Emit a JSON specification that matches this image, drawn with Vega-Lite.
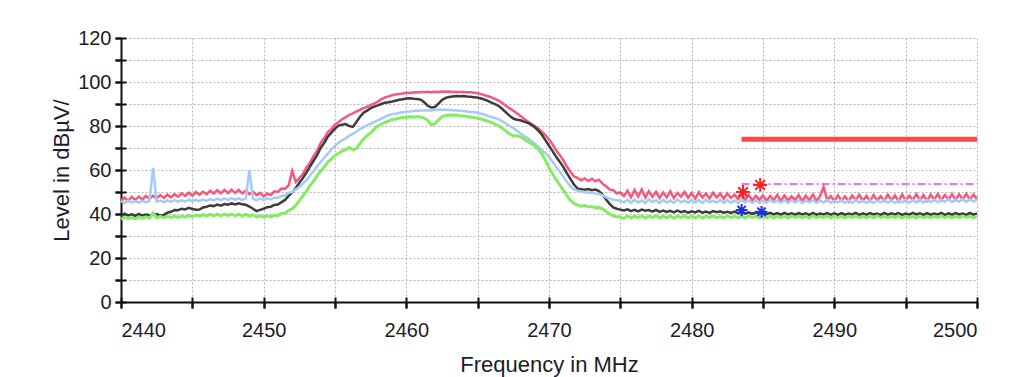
{
  "$schema": "https://vega.github.io/schema/vega-lite/v6.json",
  "width": 856,
  "height": 264,
  "autosize": {"type": "none"},
  "padding": {"left": 121, "top": 38, "right": 38, "bottom": 75},
  "background": "white",
  "config": {"view": {"stroke": null}, "font": "Liberation Sans"},
  "datasets": {
    "spec": [
      {"f":2440,"p":46.0,"k":39.0,"b":45.8,"g":37.6},
      {"f":2440.25,"p":47.4,"k":40.1,"b":45.0,"g":38.5},
      {"f":2440.5,"p":45.9,"k":39.4,"b":46.1,"g":37.9},
      {"f":2440.75,"p":47.8,"k":39.9,"b":45.3,"g":38.4},
      {"f":2441,"p":46.4,"k":39.2,"b":45.9,"g":37.8},
      {"f":2441.25,"p":47.9,"k":40.0,"b":45.2,"g":38.6},
      {"f":2441.5,"p":46.6,"k":39.3,"b":46.0,"g":38.0},
      {"f":2441.75,"p":48.2,"k":39.8,"b":45.4,"g":38.7},
      {"f":2442,"p":46.9,"k":39.4,"b":45.9,"g":38.1},
      {"f":2442.25,"p":48.3,"k":39.6,"b":61.0,"g":40.5},
      {"f":2442.5,"p":47.2,"k":40.0,"b":45.6,"g":38.2},
      {"f":2442.75,"p":48.6,"k":39.3,"b":46.1,"g":38.9},
      {"f":2443,"p":47.3,"k":39.6,"b":45.4,"g":38.3},
      {"f":2443.25,"p":48.8,"k":40.6,"b":46.2,"g":38.9},
      {"f":2443.5,"p":47.6,"k":41.0,"b":45.5,"g":38.4},
      {"f":2443.75,"p":49.0,"k":41.8,"b":46.3,"g":39.0},
      {"f":2444,"p":47.9,"k":41.7,"b":45.6,"g":38.5},
      {"f":2444.25,"p":49.4,"k":42.4,"b":46.2,"g":39.1},
      {"f":2444.5,"p":48.2,"k":42.1,"b":45.7,"g":38.6},
      {"f":2444.75,"p":49.7,"k":42.8,"b":46.4,"g":39.3},
      {"f":2445,"p":48.4,"k":42.3,"b":45.8,"g":38.8},
      {"f":2445.25,"p":50.0,"k":41.9,"b":46.4,"g":39.5},
      {"f":2445.5,"p":48.7,"k":42.0,"b":45.9,"g":39.0},
      {"f":2445.75,"p":50.2,"k":43.0,"b":46.6,"g":39.7},
      {"f":2446,"p":48.9,"k":43.3,"b":46.0,"g":39.1},
      {"f":2446.25,"p":50.6,"k":43.9,"b":46.8,"g":39.8},
      {"f":2446.5,"p":49.3,"k":43.6,"b":46.2,"g":39.2},
      {"f":2446.75,"p":50.8,"k":44.3,"b":47.0,"g":39.9},
      {"f":2447,"p":49.4,"k":43.8,"b":46.3,"g":39.3},
      {"f":2447.25,"p":50.9,"k":44.5,"b":47.1,"g":40.0},
      {"f":2447.5,"p":49.5,"k":44.2,"b":46.4,"g":39.4},
      {"f":2447.75,"p":51.0,"k":44.8,"b":47.2,"g":40.0},
      {"f":2448,"p":49.6,"k":44.3,"b":46.5,"g":39.3},
      {"f":2448.25,"p":50.9,"k":44.9,"b":47.1,"g":39.9},
      {"f":2448.5,"p":49.4,"k":44.4,"b":46.4,"g":39.2},
      {"f":2448.75,"p":50.6,"k":44.2,"b":47.0,"g":39.8},
      {"f":2449,"p":49.0,"k":43.4,"b":60.0,"g":39.0},
      {"f":2449.25,"p":50.2,"k":42.4,"b":46.9,"g":39.6},
      {"f":2449.5,"p":48.6,"k":41.3,"b":46.3,"g":38.7},
      {"f":2449.75,"p":49.6,"k":41.9,"b":47.0,"g":39.2},
      {"f":2450,"p":48.0,"k":42.4,"b":46.4,"g":38.6},
      {"f":2450.25,"p":49.3,"k":43.1,"b":47.1,"g":39.2},
      {"f":2450.5,"p":48.6,"k":43.3,"b":46.6,"g":38.7},
      {"f":2450.75,"p":50.3,"k":44.1,"b":47.5,"g":39.4},
      {"f":2451,"p":50.0,"k":44.3,"b":47.3,"g":39.3},
      {"f":2451.25,"p":51.6,"k":45.4,"b":48.2,"g":40.2},
      {"f":2451.5,"p":51.5,"k":46.4,"b":48.5,"g":40.4},
      {"f":2451.75,"p":53.0,"k":48.2,"b":49.6,"g":41.6},
      {"f":2452,"p":59.5,"k":49.8,"b":50.0,"g":42.4},
      {"f":2452.25,"p":54.6,"k":51.8,"b":51.2,"g":44.0},
      {"f":2452.5,"p":56.3,"k":54.2,"b":52.1,"g":46.1},
      {"f":2452.75,"p":58.2,"k":56.3,"b":53.9,"g":48.2},
      {"f":2453,"p":61.2,"k":58.8,"b":55.4,"g":50.4},
      {"f":2453.25,"p":63.3,"k":61.6,"b":57.6,"g":52.9},
      {"f":2453.5,"p":66.4,"k":64.2,"b":59.4,"g":55.0},
      {"f":2453.75,"p":68.8,"k":66.8,"b":61.7,"g":57.4},
      {"f":2454,"p":72.3,"k":70.1,"b":63.6,"g":59.6},
      {"f":2454.25,"p":74.5,"k":72.4,"b":65.7,"g":61.4},
      {"f":2454.5,"p":77.2,"k":75.2,"b":67.4,"g":63.6},
      {"f":2454.75,"p":78.6,"k":77.0,"b":69.4,"g":65.0},
      {"f":2455,"p":80.6,"k":78.8,"b":71.0,"g":66.6},
      {"f":2455.25,"p":81.7,"k":80.2,"b":72.4,"g":67.6},
      {"f":2455.5,"p":83.1,"k":80.6,"b":73.6,"g":68.6},
      {"f":2455.75,"p":84.0,"k":80.9,"b":74.4,"g":69.4},
      {"f":2456,"p":85.1,"k":80.0,"b":75.6,"g":70.2},
      {"f":2456.25,"p":85.7,"k":79.6,"b":76.4,"g":69.3},
      {"f":2456.5,"p":86.6,"k":81.8,"b":77.4,"g":69.8},
      {"f":2456.75,"p":87.3,"k":84.2,"b":78.6,"g":72.0},
      {"f":2457,"p":88.1,"k":86.0,"b":79.4,"g":74.1},
      {"f":2457.25,"p":88.7,"k":87.0,"b":80.4,"g":75.6},
      {"f":2457.5,"p":89.6,"k":88.1,"b":81.1,"g":77.0},
      {"f":2457.75,"p":90.2,"k":88.8,"b":81.9,"g":78.6},
      {"f":2458,"p":91.1,"k":89.4,"b":82.6,"g":80.0},
      {"f":2458.25,"p":92.2,"k":90.0,"b":83.4,"g":80.8},
      {"f":2458.5,"p":93.0,"k":90.6,"b":84.1,"g":81.6},
      {"f":2458.75,"p":93.4,"k":90.8,"b":84.9,"g":82.2},
      {"f":2459,"p":94.0,"k":91.1,"b":85.4,"g":83.0},
      {"f":2459.25,"p":94.3,"k":91.5,"b":85.6,"g":83.2},
      {"f":2459.5,"p":94.6,"k":91.9,"b":86.0,"g":83.5},
      {"f":2459.75,"p":94.8,"k":92.2,"b":86.2,"g":83.9},
      {"f":2460,"p":95.1,"k":92.5,"b":86.5,"g":84.0},
      {"f":2460.25,"p":95.0,"k":92.6,"b":86.6,"g":84.2},
      {"f":2460.5,"p":95.3,"k":92.4,"b":86.8,"g":84.0},
      {"f":2460.75,"p":95.2,"k":92.3,"b":86.9,"g":84.3},
      {"f":2461,"p":95.5,"k":92.0,"b":87.0,"g":84.1},
      {"f":2461.25,"p":95.4,"k":90.8,"b":87.1,"g":83.6},
      {"f":2461.5,"p":95.6,"k":89.2,"b":87.2,"g":82.6},
      {"f":2461.75,"p":95.4,"k":88.4,"b":87.0,"g":80.6},
      {"f":2462,"p":95.6,"k":88.6,"b":87.3,"g":81.0},
      {"f":2462.25,"p":95.5,"k":90.2,"b":87.4,"g":82.8},
      {"f":2462.5,"p":95.7,"k":91.8,"b":87.5,"g":84.2},
      {"f":2462.75,"p":95.6,"k":92.8,"b":87.4,"g":84.8},
      {"f":2463,"p":95.7,"k":93.2,"b":87.3,"g":85.0},
      {"f":2463.25,"p":95.5,"k":93.4,"b":87.2,"g":84.9},
      {"f":2463.5,"p":95.6,"k":93.6,"b":87.1,"g":85.0},
      {"f":2463.75,"p":95.4,"k":93.5,"b":86.9,"g":84.7},
      {"f":2464,"p":95.5,"k":93.6,"b":86.8,"g":84.6},
      {"f":2464.25,"p":95.3,"k":93.4,"b":86.6,"g":84.3},
      {"f":2464.5,"p":95.3,"k":93.3,"b":86.4,"g":84.1},
      {"f":2464.75,"p":95.1,"k":93.1,"b":86.2,"g":83.8},
      {"f":2465,"p":94.9,"k":92.9,"b":86.0,"g":83.5},
      {"f":2465.25,"p":94.5,"k":92.5,"b":85.6,"g":83.1},
      {"f":2465.5,"p":94.0,"k":92.0,"b":85.1,"g":82.6},
      {"f":2465.75,"p":93.5,"k":91.3,"b":84.5,"g":82.1},
      {"f":2466,"p":92.9,"k":90.5,"b":84.0,"g":81.5},
      {"f":2466.25,"p":92.2,"k":89.8,"b":83.5,"g":80.8},
      {"f":2466.5,"p":91.4,"k":89.0,"b":83.0,"g":80.0},
      {"f":2466.75,"p":90.3,"k":87.6,"b":82.0,"g":78.8},
      {"f":2467,"p":89.1,"k":86.1,"b":81.0,"g":77.6},
      {"f":2467.25,"p":88.0,"k":84.6,"b":80.0,"g":76.4},
      {"f":2467.5,"p":86.9,"k":83.4,"b":79.0,"g":75.5},
      {"f":2467.75,"p":85.8,"k":82.8,"b":77.8,"g":75.6},
      {"f":2468,"p":84.6,"k":82.6,"b":76.6,"g":75.1},
      {"f":2468.25,"p":83.3,"k":82.0,"b":75.5,"g":74.1},
      {"f":2468.5,"p":82.1,"k":81.4,"b":74.5,"g":73.0},
      {"f":2468.75,"p":81.0,"k":80.6,"b":73.2,"g":72.0},
      {"f":2469,"p":80.0,"k":79.4,"b":72.0,"g":71.0},
      {"f":2469.25,"p":78.9,"k":77.9,"b":70.6,"g":69.4},
      {"f":2469.5,"p":77.4,"k":76.0,"b":69.0,"g":67.4},
      {"f":2469.75,"p":75.9,"k":73.6,"b":67.6,"g":64.4},
      {"f":2470,"p":74.0,"k":71.0,"b":66.0,"g":61.0},
      {"f":2470.25,"p":71.6,"k":68.6,"b":63.8,"g":58.2},
      {"f":2470.5,"p":69.0,"k":66.0,"b":61.5,"g":55.6},
      {"f":2470.75,"p":66.8,"k":63.8,"b":59.2,"g":53.2},
      {"f":2471,"p":64.5,"k":61.4,"b":57.0,"g":51.0},
      {"f":2471.25,"p":61.6,"k":58.6,"b":54.6,"g":48.4},
      {"f":2471.5,"p":59.2,"k":56.0,"b":52.6,"g":46.2},
      {"f":2471.75,"p":57.1,"k":53.4,"b":51.2,"g":44.8},
      {"f":2472,"p":56.4,"k":51.6,"b":50.6,"g":44.1},
      {"f":2472.25,"p":55.3,"k":51.2,"b":50.2,"g":43.5},
      {"f":2472.5,"p":56.2,"k":51.0,"b":50.0,"g":43.8},
      {"f":2472.75,"p":55.0,"k":51.3,"b":49.7,"g":43.2},
      {"f":2473,"p":56.0,"k":50.8,"b":49.8,"g":43.4},
      {"f":2473.25,"p":54.9,"k":51.1,"b":49.3,"g":42.8},
      {"f":2473.5,"p":55.6,"k":50.4,"b":49.2,"g":43.0},
      {"f":2473.75,"p":53.8,"k":48.8,"b":48.5,"g":42.3},
      {"f":2474,"p":52.6,"k":46.6,"b":47.6,"g":41.2},
      {"f":2474.25,"p":51.2,"k":44.6,"b":47.0,"g":40.0},
      {"f":2474.5,"p":50.8,"k":43.0,"b":46.6,"g":39.1},
      {"f":2474.75,"p":49.4,"k":42.4,"b":46.3,"g":38.7},
      {"f":2475,"p":49.8,"k":42.0,"b":46.0,"g":38.6},
      {"f":2475.25,"p":48.2,"k":41.6,"b":45.3,"g":38.0},
      {"f":2475.5,"p":50.6,"k":42.1,"b":46.4,"g":39.1},
      {"f":2475.75,"p":47.6,"k":41.3,"b":45.1,"g":38.2},
      {"f":2476,"p":50.9,"k":41.9,"b":46.5,"g":39.0},
      {"f":2476.25,"p":47.9,"k":41.2,"b":45.2,"g":38.3},
      {"f":2476.5,"p":51.2,"k":42.0,"b":46.2,"g":39.2},
      {"f":2476.75,"p":47.5,"k":41.5,"b":45.0,"g":38.1},
      {"f":2477,"p":50.4,"k":41.8,"b":46.6,"g":39.0},
      {"f":2477.25,"p":47.8,"k":41.1,"b":45.4,"g":38.4},
      {"f":2477.5,"p":50.1,"k":41.9,"b":46.3,"g":39.3},
      {"f":2477.75,"p":47.3,"k":41.0,"b":45.0,"g":38.2},
      {"f":2478,"p":49.8,"k":41.6,"b":46.4,"g":38.9},
      {"f":2478.25,"p":47.6,"k":40.9,"b":45.2,"g":38.3},
      {"f":2478.5,"p":50.3,"k":41.4,"b":46.1,"g":39.2},
      {"f":2478.75,"p":47.2,"k":40.7,"b":45.0,"g":38.1},
      {"f":2479,"p":49.6,"k":41.5,"b":46.5,"g":39.0},
      {"f":2479.25,"p":47.9,"k":40.8,"b":45.3,"g":38.4},
      {"f":2479.5,"p":50.0,"k":41.3,"b":46.2,"g":39.1},
      {"f":2479.75,"p":47.4,"k":40.6,"b":45.1,"g":38.2},
      {"f":2480,"p":49.5,"k":41.2,"b":46.4,"g":39.0},
      {"f":2480.25,"p":47.0,"k":40.7,"b":45.2,"g":38.3},
      {"f":2480.5,"p":49.9,"k":41.4,"b":46.3,"g":39.2},
      {"f":2480.75,"p":47.5,"k":40.6,"b":45.0,"g":38.1},
      {"f":2481,"p":49.3,"k":41.1,"b":46.5,"g":39.0},
      {"f":2481.25,"p":47.1,"k":40.5,"b":45.3,"g":38.5},
      {"f":2481.5,"p":49.7,"k":41.3,"b":46.1,"g":39.1},
      {"f":2481.75,"p":47.6,"k":40.8,"b":45.2,"g":38.3},
      {"f":2482,"p":49.2,"k":41.2,"b":46.4,"g":38.9},
      {"f":2482.25,"p":46.9,"k":40.6,"b":45.0,"g":38.2},
      {"f":2482.5,"p":49.4,"k":41.0,"b":46.3,"g":39.1},
      {"f":2482.75,"p":47.3,"k":40.5,"b":45.1,"g":38.4},
      {"f":2483,"p":48.8,"k":41.1,"b":46.2,"g":38.9},
      {"f":2483.25,"p":46.8,"k":40.4,"b":45.0,"g":38.3},
      {"f":2483.5,"p":48.9,"k":40.9,"b":46.4,"g":39.0},
      {"f":2483.75,"p":46.5,"k":40.2,"b":45.2,"g":38.2},
      {"f":2484,"p":48.6,"k":40.8,"b":46.1,"g":39.1},
      {"f":2484.25,"p":46.2,"k":40.1,"b":45.0,"g":38.4},
      {"f":2484.5,"p":48.3,"k":40.7,"b":46.3,"g":38.9},
      {"f":2484.75,"p":46.4,"k":40.0,"b":45.1,"g":38.2},
      {"f":2485,"p":48.5,"k":40.6,"b":46.2,"g":39.0},
      {"f":2485.25,"p":46.0,"k":39.9,"b":45.0,"g":38.3},
      {"f":2485.5,"p":48.2,"k":40.5,"b":46.4,"g":39.1},
      {"f":2485.75,"p":46.3,"k":39.8,"b":45.3,"g":38.2},
      {"f":2486,"p":48.7,"k":40.4,"b":46.1,"g":38.9},
      {"f":2486.25,"p":45.9,"k":39.7,"b":45.1,"g":38.3},
      {"f":2486.5,"p":48.4,"k":40.5,"b":46.3,"g":39.0},
      {"f":2486.75,"p":46.1,"k":39.8,"b":45.0,"g":38.2},
      {"f":2487,"p":48.0,"k":40.3,"b":46.2,"g":39.1},
      {"f":2487.25,"p":46.4,"k":39.7,"b":45.2,"g":38.4},
      {"f":2487.5,"p":48.6,"k":40.4,"b":46.4,"g":38.9},
      {"f":2487.75,"p":45.8,"k":39.8,"b":45.0,"g":38.3},
      {"f":2488,"p":48.3,"k":40.3,"b":46.1,"g":39.0},
      {"f":2488.25,"p":46.2,"k":39.6,"b":45.3,"g":38.2},
      {"f":2488.5,"p":48.9,"k":40.5,"b":46.3,"g":39.1},
      {"f":2488.75,"p":46.0,"k":39.7,"b":45.1,"g":38.3},
      {"f":2489,"p":48.1,"k":40.2,"b":46.2,"g":38.9},
      {"f":2489.25,"p":52.4,"k":39.8,"b":45.2,"g":38.4},
      {"f":2489.5,"p":46.3,"k":40.4,"b":46.4,"g":39.0},
      {"f":2489.75,"p":48.2,"k":39.7,"b":45.0,"g":38.2},
      {"f":2490,"p":45.9,"k":40.3,"b":46.1,"g":39.1},
      {"f":2490.25,"p":48.5,"k":39.6,"b":45.3,"g":38.3},
      {"f":2490.5,"p":46.1,"k":40.4,"b":46.3,"g":38.9},
      {"f":2490.75,"p":48.0,"k":39.7,"b":45.1,"g":38.2},
      {"f":2491,"p":45.8,"k":40.2,"b":46.2,"g":39.0},
      {"f":2491.25,"p":48.4,"k":39.8,"b":45.0,"g":38.4},
      {"f":2491.5,"p":46.3,"k":40.5,"b":46.4,"g":39.1},
      {"f":2491.75,"p":48.7,"k":39.6,"b":45.2,"g":38.3},
      {"f":2492,"p":46.0,"k":40.3,"b":46.1,"g":38.9},
      {"f":2492.25,"p":48.2,"k":39.7,"b":45.1,"g":38.2},
      {"f":2492.5,"p":45.9,"k":40.4,"b":46.3,"g":39.0},
      {"f":2492.75,"p":48.6,"k":39.8,"b":45.0,"g":38.3},
      {"f":2493,"p":46.2,"k":40.2,"b":46.2,"g":39.1},
      {"f":2493.25,"p":48.1,"k":39.6,"b":45.3,"g":38.4},
      {"f":2493.5,"p":46.0,"k":40.5,"b":46.4,"g":38.9},
      {"f":2493.75,"p":48.8,"k":39.7,"b":45.1,"g":38.2},
      {"f":2494,"p":46.3,"k":40.3,"b":46.2,"g":39.0},
      {"f":2494.25,"p":48.4,"k":39.8,"b":45.0,"g":38.3},
      {"f":2494.5,"p":45.8,"k":40.4,"b":46.3,"g":39.1},
      {"f":2494.75,"p":48.9,"k":39.6,"b":45.2,"g":38.2},
      {"f":2495,"p":46.1,"k":40.2,"b":46.5,"g":38.9},
      {"f":2495.25,"p":48.3,"k":39.7,"b":45.1,"g":38.4},
      {"f":2495.5,"p":46.4,"k":40.5,"b":46.4,"g":39.0},
      {"f":2495.75,"p":49.0,"k":39.8,"b":45.3,"g":38.2},
      {"f":2496,"p":46.2,"k":40.3,"b":46.6,"g":39.1},
      {"f":2496.25,"p":48.6,"k":39.6,"b":45.2,"g":38.3},
      {"f":2496.5,"p":46.0,"k":40.4,"b":46.5,"g":38.9},
      {"f":2496.75,"p":48.8,"k":39.7,"b":45.4,"g":38.2},
      {"f":2497,"p":46.5,"k":40.2,"b":46.7,"g":39.0},
      {"f":2497.25,"p":49.1,"k":39.8,"b":45.3,"g":38.4},
      {"f":2497.5,"p":46.3,"k":40.5,"b":46.6,"g":39.1},
      {"f":2497.75,"p":48.7,"k":39.6,"b":45.5,"g":38.3},
      {"f":2498,"p":46.6,"k":40.3,"b":46.8,"g":38.9},
      {"f":2498.25,"p":49.0,"k":39.7,"b":45.4,"g":38.2},
      {"f":2498.5,"p":46.4,"k":40.4,"b":46.7,"g":39.0},
      {"f":2498.75,"p":48.9,"k":39.8,"b":45.6,"g":38.3},
      {"f":2499,"p":46.7,"k":40.2,"b":46.9,"g":39.1},
      {"f":2499.25,"p":49.2,"k":39.6,"b":45.5,"g":38.4},
      {"f":2499.5,"p":46.5,"k":40.5,"b":46.8,"g":38.9},
      {"f":2499.75,"p":48.8,"k":39.7,"b":45.7,"g":38.2},
      {"f":2500,"p":46.9,"k":40.3,"b":46.6,"g":39.0}
    ],
    "limit": [{"f":2483.5,"v":74},{"f":2500,"v":74}],
    "avg": [{"f":2483.5,"v":53.6},{"f":2500,"v":53.6}],
    "redmk": [{"f":2483.6,"v":50.0},{"f":2484.8,"v":53.2}],
    "bluemk": [{"f":2483.5,"v":41.8},{"f":2484.9,"v":41.0}]
  },
  "resolve": {"axis": {"x": "independent", "y": "independent"}},
  "layer": [
    {
      "data": {"name": "spec"},
      "mark": {"type": "line", "color": "#f4587c", "strokeWidth": 2.5},
      "encoding": {
        "x": {"field": "f", "type": "quantitative", "scale": {"domain": [2440, 2500], "nice": false, "zero": false},
          "axis": {"orient": "bottom", "values": [2440,2445,2450,2455,2460,2465,2470,2475,2480,2485,2490,2495,2500],
            "labelExpr": "datum.value % 10 === 0 ? datum.label : ''", "format": "d",
            "grid": true, "gridColor": "#b5b5b5", "gridDash": [2, 2], "gridWidth": 1,
            "domainColor": "#111111", "domainWidth": 2, "tickColor": "#111111", "tickWidth": 2, "tickSize": 6,
            "labelFont": "Liberation Sans", "labelFontSize": 20, "labelColor": "#1c1c28", "labelPadding": 12,
            "title": "Frequency in MHz", "titleFont": "Liberation Sans", "titleFontSize": 22, "titleFontWeight": "normal", "titleColor": "#1c1c28", "titlePadding": 14}},
        "y": {"field": "p", "type": "quantitative", "scale": {"domain": [0, 120], "nice": false},
          "axis": {"orient": "left", "values": [0,10,20,30,40,50,60,70,80,90,100,110,120],
            "labelExpr": "datum.value % 20 === 0 ? datum.label : ''",
            "grid": true, "gridColor": "#b5b5b5", "gridDash": [2, 2], "gridWidth": 1,
            "domainColor": "#111111", "domainWidth": 2, "tickColor": "#111111", "tickWidth": 2, "tickSize": 6,
            "labelFont": "Liberation Sans", "labelFontSize": 20, "labelColor": "#1c1c28", "labelPadding": 4,
            "title": "Level in dBµV/", "titleFont": "Liberation Sans", "titleFontSize": 22, "titleFontWeight": "normal", "titleColor": "#1c1c28", "titlePadding": 4}}
      }
    },
    {
      "data": {"name": "spec"},
      "mark": {"type": "line", "color": "#3c3c3c", "strokeWidth": 2.5},
      "encoding": {
        "x": {"field": "f", "type": "quantitative", "scale": {"domain": [2440, 2500], "nice": false, "zero": false}, "axis": null},
        "y": {"field": "k", "type": "quantitative", "scale": {"domain": [0, 120], "nice": false}, "axis": null}
      }
    },
    {
      "data": {"name": "spec"},
      "mark": {"type": "line", "color": "#a4cbf7", "strokeWidth": 2.5},
      "encoding": {
        "x": {"field": "f", "type": "quantitative", "scale": {"domain": [2440, 2500], "nice": false, "zero": false}, "axis": null},
        "y": {"field": "b", "type": "quantitative", "scale": {"domain": [0, 120], "nice": false}, "axis": null}
      }
    },
    {
      "data": {"name": "spec"},
      "mark": {"type": "line", "color": "#84ec62", "strokeWidth": 3},
      "encoding": {
        "x": {"field": "f", "type": "quantitative", "scale": {"domain": [2440, 2500], "nice": false, "zero": false}, "axis": null},
        "y": {"field": "g", "type": "quantitative", "scale": {"domain": [0, 120], "nice": false}, "axis": null}
      }
    },
    {
      "data": {"name": "avg"},
      "mark": {"type": "line", "color": "#ff3cf5", "strokeWidth": 1.5, "strokeDash": [8, 3, 2, 3]},
      "encoding": {
        "x": {"field": "f", "type": "quantitative", "scale": {"domain": [2440, 2500], "nice": false, "zero": false}, "axis": null},
        "y": {"field": "v", "type": "quantitative", "scale": {"domain": [0, 120], "nice": false}, "axis": null}
      }
    },
    {
      "data": {"name": "redmk"},
      "mark": {"type": "point", "shape": "M-1,0L1,0M0,-1L0,1M-0.7,-0.7L0.7,0.7M-0.7,0.7L0.7,-0.7", "filled": false, "color": "#ff1f1f", "strokeWidth": 2, "size": 190, "opacity": 1},
      "encoding": {
        "x": {"field": "f", "type": "quantitative", "scale": {"domain": [2440, 2500], "nice": false, "zero": false}, "axis": null},
        "y": {"field": "v", "type": "quantitative", "scale": {"domain": [0, 120], "nice": false}, "axis": null}
      }
    },
    {
      "data": {"name": "bluemk"},
      "mark": {"type": "point", "shape": "M-1,0L1,0M0,-1L0,1M-0.7,-0.7L0.7,0.7M-0.7,0.7L0.7,-0.7", "filled": false, "color": "#1f2fe8", "strokeWidth": 2, "size": 140, "opacity": 1},
      "encoding": {
        "x": {"field": "f", "type": "quantitative", "scale": {"domain": [2440, 2500], "nice": false, "zero": false}, "axis": null},
        "y": {"field": "v", "type": "quantitative", "scale": {"domain": [0, 120], "nice": false}, "axis": null}
      }
    },
    {
      "data": {"name": "limit"},
      "mark": {"type": "line", "color": "#ff4646", "strokeWidth": 5},
      "encoding": {
        "x": {"field": "f", "type": "quantitative", "scale": {"domain": [2440, 2500], "nice": false, "zero": false},
          "axis": {"orient": "bottom", "offset": -5, "values": [2440,2445,2450,2455,2460,2465,2470,2475,2480,2485,2490,2495,2500],
            "domain": false, "labels": false, "grid": false, "title": null, "tickColor": "#111111", "tickWidth": 2, "tickSize": 11}},
        "y": {"field": "v", "type": "quantitative", "scale": {"domain": [0, 120], "nice": false},
          "axis": {"orient": "left", "offset": -5, "values": [0,10,20,30,40,50,60,70,80,90,100,110,120],
            "domain": false, "labels": false, "grid": false, "title": null, "tickColor": "#111111", "tickWidth": 2, "tickSize": 11}}
      }
    }
  ]
}
